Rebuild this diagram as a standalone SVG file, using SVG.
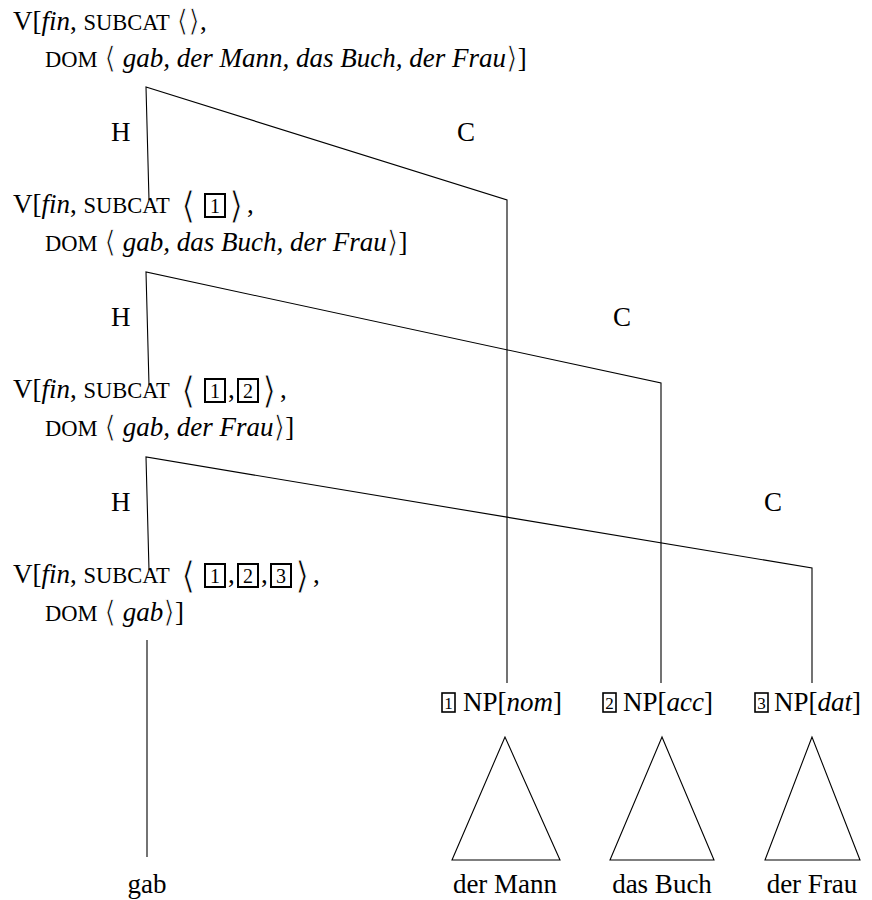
<svg xmlns="http://www.w3.org/2000/svg" width="872" height="900" viewBox="0 0 872 900">
  <style>
    .t { font-family: "Liberation Serif", "DejaVu Serif", serif; font-size: 27px; fill: #000; }
    .it { font-style: italic; }
    .sc { font-size: 22.5px; }
    /* angle brackets: thin strokes, eroded slightly with a white outline */
    .br { font-family: "DejaVu Sans", "DejaVu Serif", sans-serif; stroke: #fff; stroke-width: 0.9px; }
    .brs { font-size: 30px; }
    .big { font-size: 37px; }
    .lab { text-anchor: middle; }
    .edge { stroke: #000; stroke-width: 1.1; fill: none; }
    .tri { stroke: #000; stroke-width: 1.1; fill: none; stroke-linejoin: miter; }
    .tag { fill: none; stroke: #000; stroke-width: 2; }
    .tagn { font-family: "Liberation Serif", "DejaVu Serif", serif; font-size: 20px; text-anchor: middle; fill: #000; }
    .tagS { fill: none; stroke: #000; stroke-width: 1.6; }
    .tagnS { font-family: "Liberation Serif", "DejaVu Serif", serif; font-size: 17px; text-anchor: middle; fill: #000; }
  </style>

  <!-- branches -->
  <g id="connectors">
    <polyline class="edge" points="149,200 146,87 507,200 507,683"/>
    <polyline class="edge" points="149,385 146,272 661,383 661,683"/>
    <polyline class="edge" points="149,570 146,457 812,568 812,683"/>
    <line class="edge" x1="147" y1="640" x2="147" y2="857"/>
  </g>

  <!-- edge labels -->
  <g id="edge-labels" class="t">
    <text x="111" y="141">H</text>
    <text x="457" y="141">C</text>
    <text x="111" y="326">H</text>
    <text x="613" y="326">C</text>
    <text x="111" y="511">H</text>
    <text x="764" y="511">C</text>
  </g>

  <!-- sentence level -->
  <g id="s0">
    <text class="t" x="13" y="30">V[<tspan class="it">fin</tspan>, <tspan class="sc">SUBCAT</tspan> <tspan class="br brs" dy="1">⟨⟩</tspan><tspan dy="-1">,</tspan></text>
    <text class="t" x="45" y="67"><tspan class="sc">DOM</tspan> <tspan class="br brs" dy="1">⟨</tspan><tspan dy="-1"> </tspan><tspan class="it">gab, der Mann, das Buch, der Frau</tspan><tspan class="br brs" dy="1">⟩</tspan><tspan dy="-1">]</tspan></text>
  </g>

  <g id="s1">
    <text class="t" x="13" y="213">V[<tspan class="it">fin</tspan>, <tspan class="sc">SUBCAT</tspan></text>
    <text class="t br big" x="181" y="218">⟨</text>
    <rect class="tag" x="205" y="194" width="20" height="23"/>
    <text class="tagn" x="215" y="213">1</text>
    <text class="t br big" x="229" y="218">⟩</text>
    <text class="t" x="247" y="213">,</text>
    <text class="t" x="45" y="251"><tspan class="sc">DOM</tspan> <tspan class="br brs" dy="1">⟨</tspan><tspan dy="-1"> </tspan><tspan class="it">gab, das Buch, der Frau</tspan><tspan class="br brs" dy="1">⟩</tspan><tspan dy="-1">]</tspan></text>
  </g>

  <g id="s2">
    <text class="t" x="13" y="398">V[<tspan class="it">fin</tspan>, <tspan class="sc">SUBCAT</tspan></text>
    <text class="t br big" x="181" y="403">⟨</text>
    <rect class="tag" x="205" y="379" width="20" height="23"/>
    <text class="tagn" x="215" y="398">1</text>
    <text class="t" x="228" y="398">,</text>
    <rect class="tag" x="238" y="379" width="20" height="23"/>
    <text class="tagn" x="248" y="398">2</text>
    <text class="t br big" x="262" y="403">⟩</text>
    <text class="t" x="280" y="398">,</text>
    <text class="t" x="45" y="436"><tspan class="sc">DOM</tspan> <tspan class="br brs" dy="1">⟨</tspan><tspan dy="-1"> </tspan><tspan class="it">gab, der Frau</tspan><tspan class="br brs" dy="1">⟩</tspan><tspan dy="-1">]</tspan></text>
  </g>

  <g id="s3">
    <text class="t" x="13" y="583">V[<tspan class="it">fin</tspan>, <tspan class="sc">SUBCAT</tspan></text>
    <text class="t br big" x="181" y="588">⟨</text>
    <rect class="tag" x="205" y="564" width="20" height="23"/>
    <text class="tagn" x="215" y="583">1</text>
    <text class="t" x="228" y="583">,</text>
    <rect class="tag" x="238" y="564" width="20" height="23"/>
    <text class="tagn" x="248" y="583">2</text>
    <text class="t" x="261" y="583">,</text>
    <rect class="tag" x="271" y="564" width="20" height="23"/>
    <text class="tagn" x="281" y="583">3</text>
    <text class="t br big" x="295" y="588">⟩</text>
    <text class="t" x="313" y="583">,</text>
    <text class="t" x="45" y="621"><tspan class="sc">DOM</tspan> <tspan class="br brs" dy="1">⟨</tspan><tspan dy="-1"> </tspan><tspan class="it">gab</tspan><tspan class="br brs" dy="1">⟩</tspan><tspan dy="-1">]</tspan></text>
  </g>

  <!-- verb leaf -->
  <g id="gab">
    <text class="t lab" x="147" y="893">gab</text>
  </g>

  <!-- complements -->
  <g id="np1">
    <rect class="tagS" x="442" y="693" width="13" height="19"/>
    <text class="tagnS" x="448.5" y="709">1</text>
    <text class="t" x="463" y="711">NP[<tspan class="it">nom</tspan>]</text>
    <polygon class="tri" points="505,737 452,860 560,860"/>
    <text class="t lab" x="505" y="893">der Mann</text>
  </g>

  <g id="np2">
    <rect class="tagS" x="603" y="693" width="13" height="19"/>
    <text class="tagnS" x="609.5" y="709">2</text>
    <text class="t" x="623" y="711">NP[<tspan class="it">acc</tspan>]</text>
    <polygon class="tri" points="662,737 610,860 714,860"/>
    <text class="t lab" x="662" y="893">das Buch</text>
  </g>

  <g id="np3">
    <rect class="tagS" x="755" y="693" width="13" height="19"/>
    <text class="tagnS" x="761.5" y="709">3</text>
    <text class="t" x="774" y="711">NP[<tspan class="it">dat</tspan>]</text>
    <polygon class="tri" points="812,737 765,860 860,860"/>
    <text class="t lab" x="812" y="893">der Frau</text>
  </g>
</svg>
